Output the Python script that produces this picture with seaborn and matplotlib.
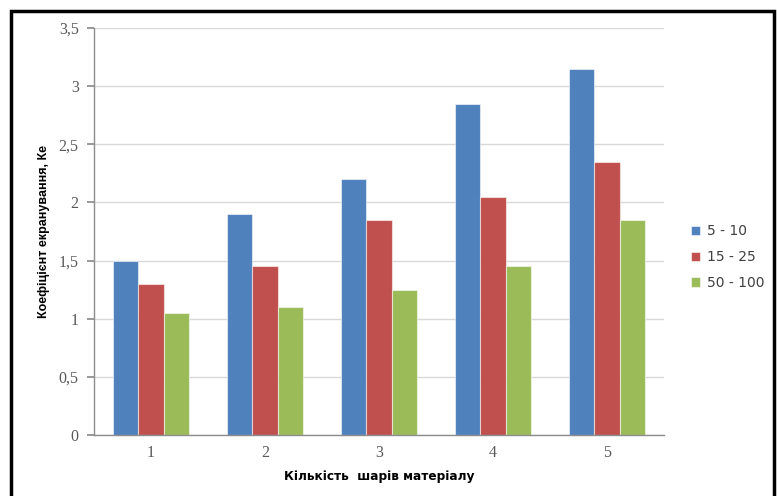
import matplotlib
matplotlib.use("Agg")
import matplotlib.pyplot as plt
from matplotlib.patches import Rectangle
from matplotlib.ticker import FuncFormatter
import pandas as pd
import seaborn as sns

# Кількість шарів матеріалу і коефіцієнт екранування для трьох діапазонів
layers = ["1", "2", "3", "4", "5"]
series_names = ["5 - 10", "15 - 25", "50 - 100"]
ke_5_10 = [1.5, 1.9, 2.2, 2.85, 3.15]
ke_15_25 = [1.3, 1.45, 1.85, 2.05, 2.35]
ke_50_100 = [1.05, 1.1, 1.25, 1.45, 1.85]
colors = ["#4F81BD", "#C0504D", "#9BBB59"]

rows = []
for name, vals in zip(series_names, [ke_5_10, ke_15_25, ke_50_100]):
    for lay, v in zip(layers, vals):
        rows.append({"layers": lay, "range": name, "Ke": v})
df = pd.DataFrame(rows)

sns.set_theme(style="white")
plt.rcParams["font.family"] = ["DejaVu Sans"]

fig = plt.figure(figsize=(7.77, 4.96), dpi=100)
ax = fig.add_axes([94 / 777, 1 - 435 / 496, (664 - 94) / 777, (435 - 28) / 496])

sns.barplot(data=df, x="layers", y="Ke", hue="range", order=layers,
            hue_order=series_names, palette=colors, width=0.67, gap=0,
            saturation=1, ax=ax, legend=True)
for p in ax.patches:
    p.set_edgecolor((1, 1, 1, 0.55))
    p.set_linewidth(0.8)

ax.set_ylim(0, 3.5)
ax.set_xlim(-0.5, 4.5)
ax.set_yticks([0, 0.5, 1, 1.5, 2, 2.5, 3, 3.5])
ax.yaxis.set_major_formatter(FuncFormatter(lambda v, _: f"{v:g}".replace(".", ",")))
ax.grid(axis="y", color="#D9D9D9", linewidth=1)
ax.set_axisbelow(True)
for s in ["top", "right"]:
    ax.spines[s].set_visible(False)
for s in ["left", "bottom"]:
    ax.spines[s].set_color("#8C8C8C")
    ax.spines[s].set_linewidth(1)
ax.tick_params(axis="y", which="major", left=True, length=5, color="#8C8C8C",
               labelsize=11.5, labelcolor="#595959", pad=6)
ax.tick_params(axis="x", bottom=False, labelsize=11.5, labelcolor="#595959", pad=1)
for lab in ax.get_yticklabels() + ax.get_xticklabels():
    lab.set_fontfamily("Liberation Serif")

ax.set_xlabel("Кількість  шарів матеріалу", fontsize=8.7, fontweight="bold",
              color="black", labelpad=7)
ax.set_ylabel("Коефіцієнт екранування, Ке", fontsize=9, fontweight="bold",
              color="black", labelpad=6, family=["Liberation Sans", "DejaVu Sans"])

handles, labels = ax.get_legend_handles_labels()
ax.legend(handles, labels, loc="center left", bbox_to_anchor=(1.025, 0.437),
          frameon=False, fontsize=10, labelcolor="#404040", handlelength=0.65,
          handleheight=0.65, handletextpad=0.5, labelspacing=0.85)

# рамка навколо рисунка
fig.patches.append(Rectangle((10.5 / 777, -0.05), (774 - 10.5) / 777, 1.05 - 11 / 496,
                             transform=fig.transFigure, fill=False,
                             edgecolor="black", linewidth=2.5, zorder=10))

fig.savefig("out.png", dpi=100)
